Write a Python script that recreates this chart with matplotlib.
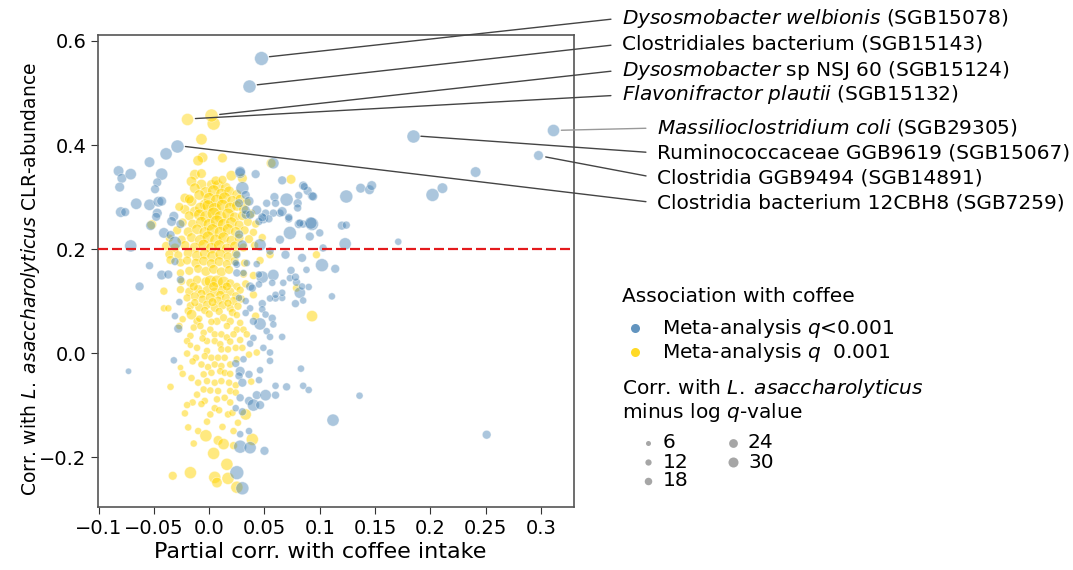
import numpy as np
import matplotlib
matplotlib.use("Agg")
import matplotlib.pyplot as plt
from matplotlib.lines import Line2D

plt.rcParams['font.family'] = ['DejaVu Sans']
plt.rcParams['mathtext.fontset'] = 'dejavusans'

# (partial corr with coffee, corr with L. asaccharolyticus, minus log q)
blue_pts = [
    (-0.039, 0.383, 40), (-0.054, 0.367, 32), (-0.082, 0.350, 32), (-0.079, 0.336, 28),
    (-0.071, 0.344, 36), (-0.081, 0.319, 28), (-0.043, 0.344, 40), (-0.047, 0.328, 24),
    (-0.049, 0.315, 24), (-0.066, 0.287, 36), (-0.054, 0.285, 36), (-0.046, 0.291, 32),
    (-0.043, 0.292, 28), (-0.080, 0.271, 32), (-0.076, 0.271, 24), (-0.047, 0.269, 28),
    (-0.048, 0.262, 24), (-0.032, 0.263, 28), (-0.034, 0.253, 28), (-0.026, 0.248, 24),
    (-0.053, 0.245, 28), (-0.041, 0.231, 32), (-0.035, 0.227, 24), (-0.031, 0.212, 44),
    (-0.071, 0.206, 40), (-0.054, 0.168, 20), (-0.043, 0.150, 28), (-0.037, 0.151, 24),
    (-0.063, 0.128, 24), (-0.026, 0.141, 20), (-0.031, 0.176, 20), (-0.027, 0.098, 16),
    (-0.031, 0.071, 16), (-0.028, 0.047, 24), (-0.073, -0.035, 12), (-0.032, -0.014, 16),
    (0.025, 0.170, 16), (0.034, 0.173, 16), (0.043, 0.171, 16), (0.025, 0.154, 20),
    (0.031, 0.154, 16), (0.037, 0.128, 24), (0.039, 0.125, 20), (0.048, 0.146, 40),
    (0.058, 0.150, 36), (0.057, 0.135, 16), (0.067, 0.135, 16), (0.074, 0.159, 20),
    (0.073, 0.144, 16), (0.079, 0.136, 20), (0.082, 0.116, 36), (0.090, 0.127, 16),
    (0.084, 0.183, 24), (0.088, 0.160, 16), (0.102, 0.169, 44), (0.114, 0.162, 24),
    (0.111, 0.109, 16), (0.085, 0.101, 16), (0.078, 0.095, 20), (0.066, 0.106, 16),
    (0.060, 0.105, 16), (0.055, 0.105, 16), (0.048, 0.095, 20), (0.048, 0.084, 16),
    (0.051, 0.074, 16), (0.057, 0.067, 20), (0.058, 0.055, 16), (0.046, 0.056, 40),
    (0.040, 0.061, 20), (0.052, 0.042, 16), (0.055, 0.031, 16), (0.066, 0.031, 16),
    (0.040, 0.029, 16), (0.037, 0.018, 16), (0.049, 0.010, 16), (0.055, 0.001, 16),
    (0.055, -0.015, 16), (0.046, -0.033, 16), (0.045, -0.052, 16), (0.031, -0.012, 16),
    (0.024, -0.020, 20), (0.028, -0.035, 28), (0.027, -0.044, 20), (0.036, -0.041, 20),
    (0.030, -0.057, 24), (0.043, -0.081, 24), (0.051, -0.081, 36), (0.060, -0.081, 20),
    (0.028, -0.086, 20), (0.036, -0.092, 24), (0.040, -0.100, 40), (0.046, -0.100, 24),
    (0.070, -0.065, 20), (0.085, -0.063, 16), (0.090, -0.071, 16), (0.083, -0.030, 16),
    (0.060, -0.063, 16), (0.136, -0.082, 16), (0.112, -0.129, 40), (0.251, -0.157, 24),
    (0.171, 0.214, 16), (0.123, 0.210, 40), (0.120, 0.245, 24), (0.124, 0.246, 20),
    (0.103, 0.202, 20), (0.093, 0.248, 44), (0.081, 0.248, 24), (0.085, 0.248, 20),
    (0.091, 0.224, 24), (0.100, 0.231, 20), (0.073, 0.231, 44), (0.064, 0.218, 24),
    (0.069, 0.189, 24), (0.046, 0.208, 40), (0.055, 0.196, 20), (0.049, 0.258, 28),
    (0.064, 0.269, 20), (0.072, 0.258, 20), (0.033, 0.266, 24), (0.027, 0.228, 24),
    (0.030, 0.208, 28), (0.025, 0.189, 20), (0.078, 0.146, 20), (0.025, -0.230, 48),
    (0.030, -0.260, 44), (0.028, -0.180, 44), (0.037, -0.182, 40), (0.050, -0.188, 24),
    (0.028, -0.156, 16), (0.036, -0.150, 16), (0.024, -0.106, 16), (0.030, -0.113, 20),
    (0.058, 0.365, 36), (0.028, 0.346, 32), (0.042, 0.344, 24), (0.066, 0.332, 24),
    (0.030, 0.317, 44), (0.085, 0.322, 24), (0.089, 0.312, 24), (0.093, 0.302, 24),
    (0.124, 0.301, 44), (0.081, 0.303, 20), (0.070, 0.295, 44), (0.059, 0.300, 24),
    (0.052, 0.288, 20), (0.060, 0.288, 20), (0.080, 0.288, 24), (0.080, 0.279, 20),
    (0.033, 0.304, 24), (0.036, 0.292, 28), (0.027, 0.288, 24), (0.033, 0.275, 24),
    (0.043, 0.275, 28), (0.051, 0.269, 20), (0.058, 0.269, 20), (0.066, 0.272, 28),
    (0.072, 0.261, 20), (0.054, 0.258, 20), (0.045, 0.253, 20), (0.082, 0.250, 20),
    (0.092, 0.250, 40), (0.037, 0.266, 24), (0.048, 0.261, 24), (0.241, 0.348, 32),
    (0.202, 0.304, 44), (0.211, 0.317, 32), (0.137, 0.317, 28), (0.145, 0.314, 28),
    (0.147, 0.322, 28), (0.094, 0.301, 24), (0.086, 0.320, 20), (0.028, 0.349, 32),
    (0.084, 0.128, 16), (0.066, 0.116, 16), (0.060, 0.112, 16), (0.037, 0.086, 16),
    (0.033, 0.077, 16), (0.024, 0.173, 16), (0.045, 0.151, 16), (0.045, 0.132, 16),
    (0.027, 0.106, 16), (0.033, 0.100, 16),
]

yellow_pts = [
    (0.004, 0.441, 44), (-0.007, 0.411, 36), (-0.006, 0.376, 32), (-0.010, 0.370, 32),
    (0.012, 0.375, 28), (0.056, 0.365, 28), (0.074, 0.334, 28), (0.020, 0.341, 32),
    (0.030, 0.336, 28), (-0.013, 0.343, 32), (-0.007, 0.345, 28), (-0.016, 0.330, 32),
    (-0.007, 0.324, 32), (0.002, 0.324, 28), (-0.013, 0.317, 32), (-0.022, 0.298, 28),
    (-0.016, 0.292, 32), (-0.022, 0.276, 28), (-0.013, 0.272, 32), (-0.004, 0.286, 32),
    (0.008, 0.322, 36), (0.015, 0.318, 32), (0.006, 0.331, 28), (0.012, 0.333, 24),
    (-0.003, 0.309, 36), (0.004, 0.312, 40), (0.011, 0.306, 36), (0.018, 0.311, 32),
    (0.025, 0.305, 28), (-0.009, 0.304, 32),
    (-0.018, 0.296, 28), (0.000, 0.297, 40), (0.007, 0.293, 44), (0.014, 0.298, 40),
    (0.021, 0.292, 36), (0.028, 0.296, 28), (0.034, 0.290, 24),
    (-0.027, 0.281, 24), (-0.008, 0.279, 36), (-0.001, 0.283, 40), (0.005, 0.277, 44),
    (0.012, 0.284, 40), (0.019, 0.279, 36), (0.025, 0.283, 32), (0.031, 0.277, 28),
    (-0.018, 0.264, 28), (-0.009, 0.266, 36), (-0.003, 0.262, 40), (0.004, 0.268, 44),
    (0.010, 0.262, 40), (0.017, 0.267, 40), (0.023, 0.261, 32), (0.030, 0.264, 28),
    (0.038, 0.268, 24),
    (-0.024, 0.251, 24), (-0.015, 0.248, 28), (-0.007, 0.252, 36), (0.000, 0.247, 40),
    (0.007, 0.253, 44), (0.013, 0.247, 40), (0.020, 0.251, 36), (0.027, 0.246, 28),
    (0.035, 0.252, 24), (0.042, 0.248, 20), (-0.052, 0.247, 28),
    (-0.029, 0.236, 24), (-0.019, 0.233, 28), (-0.011, 0.238, 32), (-0.004, 0.232, 36),
    (0.003, 0.237, 40), (0.010, 0.232, 40), (0.017, 0.238, 36), (0.024, 0.233, 32),
    (0.032, 0.236, 24), (0.040, 0.232, 20),
    (-0.036, 0.221, 20), (-0.025, 0.218, 24), (-0.016, 0.222, 28), (-0.008, 0.217, 36),
    (-0.001, 0.223, 40), (0.006, 0.217, 40), (0.013, 0.222, 36), (0.020, 0.216, 32),
    (0.027, 0.221, 28), (0.036, 0.219, 24), (0.048, 0.222, 20),
    (-0.039, 0.206, 24), (-0.031, 0.202, 28), (-0.022, 0.207, 28), (-0.013, 0.203, 32),
    (-0.005, 0.208, 36), (0.002, 0.202, 36), (0.009, 0.207, 36), (0.016, 0.201, 32),
    (0.023, 0.206, 28), (0.031, 0.203, 24), (0.041, 0.207, 20),
    (-0.036, 0.190, 24), (-0.028, 0.188, 24), (-0.019, 0.192, 28), (-0.011, 0.187, 32),
    (-0.004, 0.191, 32), (0.003, 0.186, 36), (0.010, 0.190, 32), (0.017, 0.185, 28),
    (0.024, 0.191, 24), (0.055, 0.189, 20), (0.097, 0.189, 20),
    (-0.035, 0.179, 24), (-0.026, 0.174, 24), (-0.020, 0.178, 24), (-0.012, 0.173, 28),
    (-0.005, 0.177, 28), (0.002, 0.172, 28), (0.009, 0.176, 28), (0.016, 0.171, 24),
    (0.023, 0.177, 24), (0.032, 0.173, 20), (0.046, 0.178, 20),
    (-0.026, 0.154, 20), (-0.018, 0.158, 24), (-0.010, 0.162, 24), (-0.003, 0.157, 28),
    (0.004, 0.161, 28), (0.011, 0.156, 28), (0.018, 0.160, 24), (0.031, 0.152, 20),
    (0.040, 0.149, 20),
    (-0.025, 0.138, 20), (-0.017, 0.135, 24), (-0.011, 0.141, 24), (-0.003, 0.137, 28),
    (0.001, 0.138, 40), (0.007, 0.138, 40), (0.013, 0.136, 40), (0.019, 0.134, 24),
    (0.025, 0.128, 20), (0.033, 0.133, 20),
    (-0.041, 0.119, 20), (-0.026, 0.122, 20), (-0.018, 0.118, 24), (-0.010, 0.123, 24),
    (-0.002, 0.120, 28), (0.005, 0.117, 28), (0.012, 0.121, 28), (0.019, 0.118, 24),
    (0.028, 0.121, 20), (0.040, 0.112, 20), (0.079, 0.125, 20),
    (-0.014, 0.128, 24), (0.016, 0.128, 24), (0.004, 0.128, 28), (-0.007, 0.114, 24),
    (0.010, 0.112, 24), (0.024, 0.110, 20),
    (-0.020, 0.106, 20), (-0.013, 0.109, 24), (-0.006, 0.103, 24), (0.001, 0.107, 28),
    (0.008, 0.101, 24), (0.015, 0.106, 24), (0.022, 0.100, 24), (0.029, 0.104, 20),
    (-0.017, 0.091, 20), (-0.009, 0.088, 24), (-0.002, 0.093, 24), (0.005, 0.087, 24),
    (0.012, 0.092, 24), (0.019, 0.086, 20), (0.026, 0.090, 20),
    (-0.013, 0.097, 20), (0.003, 0.098, 24), (0.017, 0.096, 20),
    (-0.004, 0.082, 20), (0.009, 0.080, 20), (0.021, 0.078, 20),
    (-0.041, 0.086, 16), (-0.037, 0.086, 16), (-0.019, 0.081, 20), (-0.016, 0.074, 32),
    (-0.011, 0.061, 20), (0.007, 0.061, 20), (0.013, 0.068, 20), (0.019, 0.061, 20),
    (0.093, 0.071, 36), (0.042, 0.071, 20), (0.000, 0.075, 20), (0.025, 0.073, 16),
    (-0.009, 0.066, 16), (0.002, 0.060, 16), (0.028, 0.058, 16),
    (-0.024, 0.065, 16), (-0.027, 0.052, 16), (-0.014, 0.049, 16), (-0.008, 0.052, 16),
    (0.001, 0.045, 16), (0.025, 0.045, 16), (0.031, 0.045, 16), (0.016, 0.052, 16),
    (-0.005, 0.039, 16), (0.005, 0.036, 16), (0.011, 0.036, 16), (0.016, 0.030, 16),
    (0.022, 0.036, 16), (0.034, 0.036, 16), (-0.017, 0.033, 16),
    (-0.002, 0.023, 16), (0.005, 0.023, 16), (-0.020, 0.023, 16), (0.010, 0.017, 16),
    (-0.006, 0.028, 16), (0.019, 0.022, 16), (0.028, 0.025, 16),
    (-0.017, 0.015, 12), (-0.011, 0.010, 16), (-0.002, 0.004, 16), (0.011, 0.007, 16),
    (0.017, 0.007, 16), (0.024, 0.010, 16), (0.030, 0.010, 16), (0.043, 0.001, 16),
    (-0.020, -0.001, 16), (-0.012, -0.009, 16), (-0.004, -0.006, 16), (0.002, -0.009, 16),
    (0.008, -0.009, 16), (0.014, -0.009, 16), (0.036, -0.003, 16),
    (-0.015, -0.016, 16), (0.025, -0.012, 16),
    (-0.026, -0.028, 12), (-0.007, -0.022, 16), (-0.001, -0.027, 16), (0.005, -0.022, 16),
    (0.011, -0.025, 16), (0.019, -0.022, 16),
    (-0.024, -0.040, 16), (-0.005, -0.041, 16), (0.002, -0.038, 16), (0.010, -0.035, 16),
    (0.014, -0.038, 16), (0.019, -0.040, 16), (-0.016, -0.048, 16),
    (-0.010, -0.057, 16), (-0.002, -0.054, 16), (0.005, -0.057, 16), (0.011, -0.054, 16),
    (0.018, -0.057, 16), (0.038, -0.055, 16), (-0.035, -0.065, 16), (0.024, -0.062, 16),
    (-0.005, -0.070, 16), (0.001, -0.072, 16), (0.008, -0.073, 16), (0.019, -0.073, 16),
    (0.024, -0.076, 16), (-0.011, -0.080, 16),
    (-0.004, -0.092, 16), (0.007, -0.089, 16), (0.014, -0.086, 16), (-0.007, -0.098, 16),
    (-0.015, -0.095, 16), (0.019, -0.095, 16),
    (-0.020, -0.100, 16), (-0.022, -0.116, 16), (0.001, -0.118, 16), (0.005, -0.106, 16),
    (0.009, -0.110, 16), (0.017, -0.118, 16), (0.021, -0.115, 16), (0.033, -0.118, 36),
    (0.026, -0.134, 16), (-0.002, -0.132, 16), (0.012, -0.142, 16), (-0.010, -0.150, 16),
    (-0.019, -0.143, 16), (-0.014, -0.174, 16), (-0.003, -0.159, 40), (-0.017, -0.230, 40),
    (-0.033, -0.236, 24), (0.004, -0.193, 40), (0.008, -0.168, 28), (0.013, -0.175, 36),
    (0.005, -0.239, 40), (0.007, -0.249, 32), (0.016, -0.214, 40), (0.017, -0.241, 40),
    (0.025, -0.258, 40), (0.022, -0.178, 20), (0.039, -0.166, 40), (0.022, -0.150, 16),
]

# labelled taxa: (x, y, minus log q, group)
labelled_pts = [
    (0.047, 0.568, 48, 'blue'),
    (0.036, 0.514, 44, 'blue'),
    (0.002, 0.457, 44, 'yellow'),
    (-0.020, 0.450, 40, 'yellow'),
    (0.311, 0.428, 40, 'blue'),
    (0.184, 0.418, 44, 'blue'),
    (0.297, 0.380, 28, 'blue'),
    (-0.029, 0.399, 44, 'blue'),
]
labelled_names = [
    r"$\it{Dysosmobacter}$ $\it{welbionis}$ (SGB15078)",
    "Clostridiales bacterium (SGB15143)",
    r"$\it{Dysosmobacter}$ sp NSJ 60 (SGB15124)",
    r"$\it{Flavonifractor}$ $\it{plautii}$ (SGB15132)",
    r"$\it{Massilioclostridium}$ $\it{coli}$ (SGB29305)",
    "Ruminococcaceae GGB9619 (SGB15067)",
    "Clostridia GGB9494 (SGB14891)",
    "Clostridia bacterium 12CBH8 (SGB7259)",
]
# text anchor in figure pixels (from top-left)
label_xy = [(622, 18), (622, 44), (622, 70), (622, 95),
            (657, 128), (657, 153), (657, 178), (657, 203)]
line_cols = ['#444444', '#444444', '#444444', '#444444',
             '#999999', '#444444', '#444444', '#444444']

group_labels = [r"Meta-analysis $q$<0.001", r"Meta-analysis $q$  0.001"]
size_levels = [6, 12, 18, 24, 30]
xticks = [-0.1, -0.05, 0.0, 0.05, 0.1, 0.15, 0.2, 0.25, 0.3]
xticklabels = ['\u22120.1', '\u22120.05', '0.0', '0.05', '0.1', '0.15', '0.2', '0.25', '0.3']
yticks = [-0.2, 0.0, 0.2, 0.4, 0.6]
yticklabels = ['\u22120.2', '0.0', '0.2', '0.4', '0.6']

BLUE = '#4682b4'
YELLOW = '#ffd400'
FS = 14.5
LASAC = r"$\it{L.}\;\it{asaccharolyticus}$"


def diam(q):
    # marker diameter in points
    return (3.75 + 0.21 * np.asarray(q)) * 0.72


W, H = 1073, 570
fig = plt.figure(figsize=(W / 100, H / 100), dpi=100)
ax = fig.add_axes([98 / W, 1 - 507 / H, 476 / W, 472 / H])

yp = np.array(yellow_pts)
bp = np.array(blue_pts)
ax.scatter(yp[:, 0], yp[:, 1], s=diam(yp[:, 2]) ** 2, color=YELLOW, alpha=0.5,
           edgecolors='white', linewidths=0.6, zorder=2)
ax.scatter(bp[:, 0], bp[:, 1], s=diam(bp[:, 2]) ** 2, color=BLUE, alpha=0.45,
           edgecolors='white', linewidths=0.6, zorder=3)
for (x, y, q, g) in labelled_pts:
    ax.scatter([x], [y], s=diam(q) ** 2, color=BLUE if g == 'blue' else YELLOW,
               alpha=0.45, edgecolors='white', linewidths=0.6, zorder=3)

ax.axhline(0.2, color='#e41a1c', ls=(0, (4.5, 1.8)), lw=1.6, zorder=4)

ax.set_xlim(-0.1006, 0.330)
ax.set_ylim(-0.296, 0.6115)
ax.set_xticks(xticks)
ax.set_xticklabels(xticklabels, fontsize=14)
ax.set_yticks(yticks)
ax.set_yticklabels(yticklabels, fontsize=14)
ax.tick_params(length=5, color='#333333')
for sp in ax.spines.values():
    sp.set_color('#555555')
    sp.set_linewidth(1.2)
ax.set_xlabel("Partial corr. with coffee intake", fontsize=16, labelpad=4)
ax.xaxis.set_label_coords(0.466, -0.075)
ax.set_ylabel("Corr. with " + LASAC + " CLR-abundance", fontsize=13.5)
ax.yaxis.set_label_coords(-0.118, 0.483)

for (x, y, q, g), name, (tx, ty), lc in zip(labelled_pts, labelled_names, label_xy, line_cols):
    ax.annotate(name, xy=(x, y), xycoords='data',
                xytext=(tx, H - ty), textcoords='figure pixels',
                ha='left', va='center', fontsize=FS, annotation_clip=False,
                arrowprops=dict(arrowstyle='-', color=lc, lw=1.0,
                                shrinkA=6, shrinkB=6, relpos=(0, 0.5)))


# legends drawn by hand, positions in figure pixels from the top-left
def fx(px):
    return px / W


def fy(py):
    return 1 - py / H


fig.text(fx(622), fy(297), "Association with coffee", fontsize=FS, va='center', ha='left')
for col, lab, py in zip([BLUE, YELLOW], group_labels, [328, 352]):
    fig.add_artist(Line2D([fx(635)], [fy(py)], transform=fig.transFigure, ls='',
                          marker='o', ms=6.5, color=col, alpha=0.85, mew=0))
    fig.text(fx(662), fy(py), lab, fontsize=FS, va='center', ha='left')

fig.text(fx(622), fy(388), "Corr. with " + LASAC, fontsize=FS, va='center', ha='left')
fig.text(fx(622), fy(413), r"minus log $\it{q}$-value", fontsize=FS, va='center', ha='left')
size_pos = [(648, 443), (648, 462), (648, 481), (733, 443), (733, 462)]
for q, (px, py) in zip(size_levels, size_pos):
    fig.add_artist(Line2D([fx(px)], [fy(py)], transform=fig.transFigure, ls='',
                          marker='o', ms=diam(q), color='#a6a6a6', mew=0))
    fig.text(fx(px + 15), fy(py), str(q), fontsize=FS, va='center', ha='left')

fig.savefig("out.png", dpi=100)
